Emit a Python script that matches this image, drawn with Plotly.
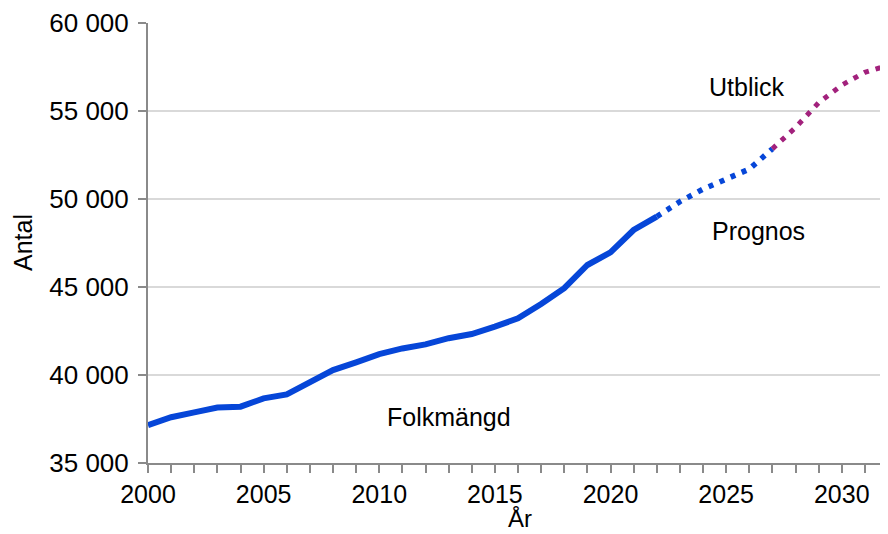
import plotly.graph_objects as go

# Folkmängd (observed)
years_obs = list(range(2000, 2023))
pop_obs = [37150, 37600, 37880, 38150, 38200, 38670, 38900, 39620, 40280, 40720,
           41190, 41510, 41740, 42090, 42330, 42750, 43220, 44030, 44930, 46250,
           46970, 48240, 49000]

# Prognos
years_prog = list(range(2022, 2028))
pop_prog = [49000, 49850, 50560, 51150, 51700, 52850]

# Utblick
years_utb = list(range(2027, 2033))
pop_utb = [52850, 54060, 55470, 56470, 57200, 57590]

y_ticks = [35000, 40000, 45000, 50000, 55000, 60000]
y_ticktext = ["35 000", "40 000", "45 000", "50 000", "55 000", "60 000"]
x_ticks = [2000, 2005, 2010, 2015, 2020, 2025, 2030]

BLUE = "#0646D8"
PURPLE = "#A2217C"
FONT = "Liberation Sans, Arial, sans-serif"

fig = go.Figure()
fig.add_trace(go.Scatter(x=years_obs, y=pop_obs, mode="lines",
                         line=dict(color=BLUE, width=6), showlegend=False))
fig.add_trace(go.Scatter(x=years_prog, y=pop_prog, mode="lines",
                         line=dict(color=BLUE, width=5.5, dash="5px,7px"), showlegend=False))
fig.add_trace(go.Scatter(x=years_utb, y=pop_utb, mode="lines",
                         line=dict(color=PURPLE, width=5, dash="5px,7px"), showlegend=False))

labels = [("Utblick", 2025.9, 56350), ("Prognos", 2026.4, 48180), ("Folkmängd", 2013.0, 37610)]
for text, x, y in labels:
    fig.add_annotation(x=x, y=y, text=text, showarrow=False,
                       font=dict(family=FONT, size=25, color="#000000"))

# axis titles
fig.add_annotation(x=0, y=0.5, xref="paper", yref="paper", text="Antal", textangle=-90,
                   showarrow=False, xanchor="center", yanchor="middle", xshift=-125,
                   font=dict(family=FONT, size=25, color="#000000"))
fig.add_annotation(x=0.503, y=0, xref="paper", yref="paper", text="År",
                   showarrow=False, xanchor="center", yanchor="middle", yshift=-55,
                   font=dict(family=FONT, size=24, color="#000000"))

# page body has an 8px margin; figure sized so it fits the 888x534 window
fig.update_layout(
    width=880, height=526,
    margin=dict(l=140, r=0, t=15, b=71),
    paper_bgcolor="white", plot_bgcolor="white",
    font=dict(family=FONT, size=24, color="#000000"),
)
fig.update_xaxes(
    range=[2000, 2032], tickmode="array", tickvals=x_ticks, automargin=False,
    ticks="outside", ticklen=8, tickcolor="#8A8A8A", tickwidth=1.5,
    minor=dict(dtick=1, tick0=2000, ticks="outside", ticklen=8, tickcolor="#8A8A8A", tickwidth=1.5),
    showline=True, linecolor="#8A8A8A", linewidth=2,
    showgrid=False, zeroline=False,
    tickfont=dict(size=25),
)
fig.update_yaxes(
    range=[35000, 60000], tickmode="array", tickvals=y_ticks, ticktext=y_ticktext,
    automargin=False, ticklabelstandoff=4,
    ticks="outside", ticklen=8, tickcolor="#8A8A8A", tickwidth=1.5,
    showline=True, linecolor="#8A8A8A", linewidth=2,
    showgrid=True, gridcolor="#D9D9D9", gridwidth=1.5, zeroline=False,
    tickfont=dict(size=26),
)

fig.write_html("out.html")
